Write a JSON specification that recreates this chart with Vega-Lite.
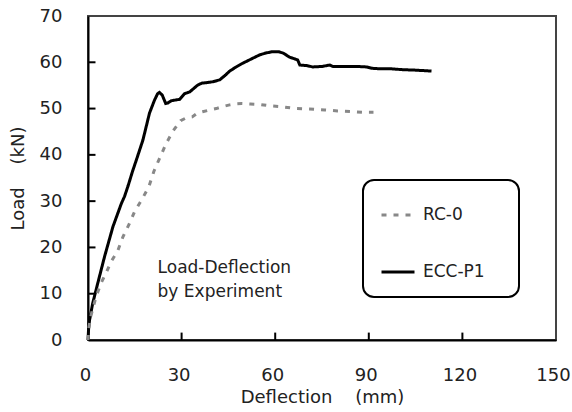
{
  "$schema": "https://vega.github.io/schema/vega-lite/v6.json",
  "width": 468,
  "height": 324,
  "autosize": {"type": "none"},
  "padding": {"left": 88, "top": 16, "right": 16, "bottom": 72},
  "background": "white",
  "config": {
    "view": {"stroke": "#444444", "strokeWidth": 2},
    "font": "DejaVu Sans",
    "axis": {
      "grid": false,
      "ticks": true,
      "domainColor": "#000000",
      "domainWidth": 2,
      "tickColor": "#000000",
      "tickOpacity": 0,
      "tickWidth": 1.5,
      "tickSize": 7,
      "labelFontSize": 18,
      "labelColor": "#222222",
      "labelFont": "DejaVu Sans",
      "titleFont": "DejaVu Sans",
      "titleFontSize": 18,
      "titleFontWeight": "normal",
      "titleColor": "#222222",
      "labelFlush": false
    },
    "legend": {
      "orient": "none",
      "legendX": 275,
      "legendY": 164,
      "fillColor": "white",
      "strokeColor": "#000000",
      "cornerRadius": 11,
      "padding": 17,
      "rowPadding": 31,
      "symbolType": "stroke",
      "symbolSize": 1089,
      "symbolStrokeWidth": 3,
      "labelFontSize": 17,
      "labelFont": "DejaVu Sans",
      "labelColor": "#222222",
      "labelOffset": 7,
      "titleOrient": "right",
      "titleFontSize": 1,
      "titlePadding": 17
    }
  },
  "layer": [
    {
      "data": {
        "values": [
          {"deflection": 30},
          {"deflection": 60},
          {"deflection": 90},
          {"deflection": 120}
        ]
      },
      "mark": {"type": "rule", "strokeWidth": 2, "color": "#000000", "opacity": 1},
      "encoding": {
        "x": {"field": "deflection", "type": "quantitative"},
        "y": {"datum": 0, "type": "quantitative"},
        "y2": {"datum": 1.6}
      }
    },
    {
      "data": {
        "values": [
          {"load": 10},
          {"load": 20},
          {"load": 30},
          {"load": 40},
          {"load": 50},
          {"load": 60}
        ]
      },
      "mark": {"type": "rule", "strokeWidth": 2, "color": "#000000", "opacity": 1},
      "encoding": {
        "y": {"field": "load", "type": "quantitative"},
        "x": {"datum": 0, "type": "quantitative"},
        "x2": {"datum": 2.4}
      }
    },
    {
      "data": {
        "values": [
          {"series": "ECC-P1", "deflection": 0, "load": 0},
          {"series": "ECC-P1", "deflection": 0.2, "load": 2.5},
          {"series": "ECC-P1", "deflection": 0.5, "load": 4.3},
          {"series": "ECC-P1", "deflection": 1.5, "load": 7.9},
          {"series": "ECC-P1", "deflection": 3.1, "load": 12.2},
          {"series": "ECC-P1", "deflection": 5.3, "load": 18},
          {"series": "ECC-P1", "deflection": 8.0, "load": 24.5},
          {"series": "ECC-P1", "deflection": 10.7, "load": 29.5},
          {"series": "ECC-P1", "deflection": 11.7, "load": 31},
          {"series": "ECC-P1", "deflection": 12.8, "load": 33.2},
          {"series": "ECC-P1", "deflection": 14.3, "load": 36.5},
          {"series": "ECC-P1", "deflection": 15.5, "load": 38.9},
          {"series": "ECC-P1", "deflection": 17.6, "load": 43.2},
          {"series": "ECC-P1", "deflection": 18.8, "load": 46.5},
          {"series": "ECC-P1", "deflection": 19.7, "load": 49.0},
          {"series": "ECC-P1", "deflection": 21.3, "load": 51.8},
          {"series": "ECC-P1", "deflection": 22.3, "load": 53.2},
          {"series": "ECC-P1", "deflection": 22.9, "load": 53.5},
          {"series": "ECC-P1", "deflection": 23.8, "load": 52.9},
          {"series": "ECC-P1", "deflection": 24.9, "load": 51.1},
          {"series": "ECC-P1", "deflection": 25.6, "load": 51.2},
          {"series": "ECC-P1", "deflection": 26.7, "load": 51.7},
          {"series": "ECC-P1", "deflection": 29.4, "load": 52.0},
          {"series": "ECC-P1", "deflection": 30.9, "load": 53.2},
          {"series": "ECC-P1", "deflection": 32.6, "load": 53.6},
          {"series": "ECC-P1", "deflection": 35.2, "load": 55.1},
          {"series": "ECC-P1", "deflection": 36.5, "load": 55.5},
          {"series": "ECC-P1", "deflection": 38, "load": 55.6},
          {"series": "ECC-P1", "deflection": 40, "load": 55.8},
          {"series": "ECC-P1", "deflection": 42.2, "load": 56.2},
          {"series": "ECC-P1", "deflection": 44, "load": 57.2},
          {"series": "ECC-P1", "deflection": 45.4, "load": 58.1},
          {"series": "ECC-P1", "deflection": 47.5, "load": 59},
          {"series": "ECC-P1", "deflection": 49.6, "load": 59.8},
          {"series": "ECC-P1", "deflection": 52, "load": 60.6},
          {"series": "ECC-P1", "deflection": 55, "load": 61.6},
          {"series": "ECC-P1", "deflection": 57, "load": 62},
          {"series": "ECC-P1", "deflection": 59.2, "load": 62.3},
          {"series": "ECC-P1", "deflection": 61, "load": 62.3},
          {"series": "ECC-P1", "deflection": 62.5, "load": 62},
          {"series": "ECC-P1", "deflection": 63.7, "load": 61.5},
          {"series": "ECC-P1", "deflection": 64.6, "load": 61.1},
          {"series": "ECC-P1", "deflection": 66, "load": 60.8},
          {"series": "ECC-P1", "deflection": 67.2, "load": 60.5},
          {"series": "ECC-P1", "deflection": 67.9, "load": 59.4},
          {"series": "ECC-P1", "deflection": 70, "load": 59.3},
          {"series": "ECC-P1", "deflection": 72, "load": 59.0},
          {"series": "ECC-P1", "deflection": 75, "load": 59.1},
          {"series": "ECC-P1", "deflection": 77.5, "load": 59.4},
          {"series": "ECC-P1", "deflection": 78.5, "load": 59.1},
          {"series": "ECC-P1", "deflection": 82, "load": 59.1},
          {"series": "ECC-P1", "deflection": 86, "load": 59.1},
          {"series": "ECC-P1", "deflection": 89.3, "load": 59.0},
          {"series": "ECC-P1", "deflection": 91, "load": 58.7},
          {"series": "ECC-P1", "deflection": 93.5, "load": 58.6},
          {"series": "ECC-P1", "deflection": 97, "load": 58.6},
          {"series": "ECC-P1", "deflection": 100.9, "load": 58.4},
          {"series": "ECC-P1", "deflection": 105, "load": 58.3},
          {"series": "ECC-P1", "deflection": 110.1, "load": 58.1},
          {"series": "RC-0", "deflection": 0, "load": 0},
          {"series": "RC-0", "deflection": 0.3, "load": 2.8},
          {"series": "RC-0", "deflection": 1.0, "load": 5.4},
          {"series": "RC-0", "deflection": 2.6, "load": 9.4},
          {"series": "RC-0", "deflection": 4.2, "load": 12.3},
          {"series": "RC-0", "deflection": 5.8, "load": 14.5},
          {"series": "RC-0", "deflection": 7.4, "load": 16.9},
          {"series": "RC-0", "deflection": 9.6, "load": 19.4},
          {"series": "RC-0", "deflection": 11.2, "load": 22.3},
          {"series": "RC-0", "deflection": 13.3, "load": 25.2},
          {"series": "RC-0", "deflection": 14.9, "load": 27.7},
          {"series": "RC-0", "deflection": 17.3, "load": 30.4},
          {"series": "RC-0", "deflection": 19.5, "load": 33.1},
          {"series": "RC-0", "deflection": 21.1, "load": 36.4},
          {"series": "RC-0", "deflection": 22.9, "load": 39.2},
          {"series": "RC-0", "deflection": 25.1, "load": 42.5},
          {"series": "RC-0", "deflection": 27.2, "load": 45.1},
          {"series": "RC-0", "deflection": 29.7, "load": 47.4},
          {"series": "RC-0", "deflection": 31.5, "load": 48},
          {"series": "RC-0", "deflection": 33.4, "load": 48.2},
          {"series": "RC-0", "deflection": 35, "load": 49},
          {"series": "RC-0", "deflection": 36.7, "load": 49.3},
          {"series": "RC-0", "deflection": 39, "load": 49.7},
          {"series": "RC-0", "deflection": 41.1, "load": 50.0},
          {"series": "RC-0", "deflection": 43, "load": 50.4},
          {"series": "RC-0", "deflection": 45.4, "load": 50.8},
          {"series": "RC-0", "deflection": 47, "load": 51},
          {"series": "RC-0", "deflection": 49.2, "load": 51.1},
          {"series": "RC-0", "deflection": 52, "load": 51},
          {"series": "RC-0", "deflection": 55, "load": 50.9},
          {"series": "RC-0", "deflection": 58.2, "load": 50.6},
          {"series": "RC-0", "deflection": 62, "load": 50.4},
          {"series": "RC-0", "deflection": 66.8, "load": 50.0},
          {"series": "RC-0", "deflection": 71, "load": 49.9},
          {"series": "RC-0", "deflection": 75.9, "load": 49.7},
          {"series": "RC-0", "deflection": 80, "load": 49.5},
          {"series": "RC-0", "deflection": 85.5, "load": 49.3},
          {"series": "RC-0", "deflection": 88, "load": 49.2},
          {"series": "RC-0", "deflection": 91.5, "load": 49.2}
        ]
      },
      "mark": {"type": "line", "strokeWidth": 3},
      "encoding": {
        "x": {
          "field": "deflection",
          "type": "quantitative",
          "scale": {"domain": [0, 150], "nice": false},
          "axis": {
            "values": [0, 30, 60, 90, 120, 150],
            "title": "Deflection\u00a0\u00a0\u00a0\u00a0(mm)",
            "labelPadding": 19,
            "labelOffset": -3,
            "titlePadding": 4
          }
        },
        "y": {
          "field": "load",
          "type": "quantitative",
          "scale": {"domain": [0, 70], "nice": false},
          "axis": {
            "values": [0, 10, 20, 30, 40, 50, 60, 70],
            "title": "Load\u00a0\u00a0\u00a0\u00a0(kN)",
            "labelPadding": 19,
            "titlePadding": 12
          }
        },
        "color": {
          "field": "series",
          "type": "nominal",
          "scale": {"domain": ["RC-0", "ECC-P1"], "range": ["#888888", "#000000"]},
          "legend": {
            "title": "\u00a0",
            "encode": {"legend": {"update": {"strokeWidth": {"value": 2}}}}
          }
        },
        "strokeDash": {
          "field": "series",
          "type": "nominal",
          "scale": {"domain": ["RC-0", "ECC-P1"], "range": [[5, 7], [1, 0]]},
          "legend": {
            "title": "\u00a0",
            "encode": {"legend": {"update": {"strokeWidth": {"value": 2}}}}
          }
        }
      }
    },
    {
      "data": {
        "values": [
          {"deflection": 22.3, "load": 15.6, "label": "Load-Deflection"},
          {"deflection": 22.3, "load": 10.4, "label": "by Experiment"}
        ]
      },
      "mark": {"type": "text", "align": "left", "baseline": "middle", "fontSize": 17, "font": "DejaVu Sans", "color": "#222222"},
      "encoding": {
        "x": {"field": "deflection", "type": "quantitative"},
        "y": {"field": "load", "type": "quantitative"},
        "text": {"field": "label"}
      }
    }
  ]
}
